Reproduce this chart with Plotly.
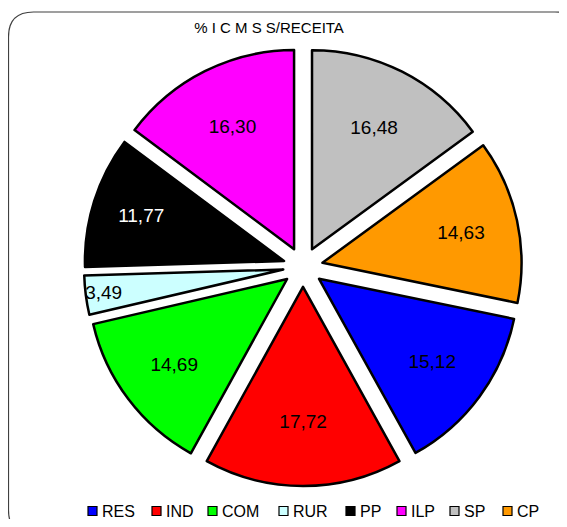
import plotly.graph_objects as go

categories = ["RES", "IND", "COM", "RUR", "PP", "ILP", "SP", "CP"]
values = [15.12, 17.72, 14.69, 3.49, 11.77, 16.30, 16.48, 14.63]
colors = ["#0000FF", "#FF0000", "#00FF00", "#CCFFFF", "#000000", "#FF00FF", "#C0C0C0", "#FF9900"]
text_colors = ["black", "black", "black", "black", "white", "black", "black", "black"]
title_text = "% I C M S S/RECEITA"

labels_txt = [f"{v:.2f}".replace(".", ",") for v in values]
total = sum(values)
# first slice (RES) starts after SP and CP, measured clockwise from 12 o'clock
rotation = (values[6] + values[7]) / total * 360

# page body has an 8px margin on every side
OFF = 8
W, H = 567 - 2 * OFF, 527 - 2 * OFF
cx, cy = 303 - OFF, 267 - OFF
half = 219

def px(x):
    return (x - OFF) / W

def py(y):
    return 1 - (y - OFF) / H

fig = go.Figure(go.Pie(
    labels=categories,
    values=values,
    text=labels_txt,
    textinfo="text",
    textposition="inside",
    insidetextorientation="horizontal",
    textfont=dict(family="Liberation Sans, Arial", size=19, color=text_colors),
    marker=dict(colors=colors, line=dict(color="black", width=2.5)),
    pull=[0.1] * len(values),
    sort=False,
    direction="clockwise",
    rotation=rotation,
    domain=dict(x=[(cx - half) / W, (cx + half) / W], y=[1 - (cy + half) / H, 1 - (cy - half) / H]),
    hoverinfo="label+value",
    showlegend=False,
))

x0, x1, y0, y1, r = 8.5, 580, 12, 535, 25
path = (
    f"M {px(x0 + r)},{py(y0)} L {px(x1 - r)},{py(y0)} Q {px(x1)},{py(y0)} {px(x1)},{py(y0 + r)} "
    f"L {px(x1)},{py(y1 - r)} Q {px(x1)},{py(y1)} {px(x1 - r)},{py(y1)} "
    f"L {px(x0 + r)},{py(y1)} Q {px(x0)},{py(y1)} {px(x0)},{py(y1 - r)} "
    f"L {px(x0)},{py(y0 + r)} Q {px(x0)},{py(y0)} {px(x0 + r)},{py(y0)} Z"
)
shapes = [dict(type="path", path=path, xref="paper", yref="paper",
               line=dict(color="#404040", width=1.2), layer="below")]

# legend drawn as squares + labels (layout positions, in page pixels)
legend_x = [88, 152, 208, 279, 346, 397, 450, 503]
legend_y = 511
sq = 9
annotations = []
for cat, col, lx in zip(categories, colors, legend_x):
    shapes.append(dict(type="rect", xref="paper", yref="paper",
                       x0=px(lx), x1=px(lx + sq), y0=py(legend_y + sq / 2), y1=py(legend_y - sq / 2),
                       fillcolor=col, line=dict(color="black", width=1.2)))
    annotations.append(dict(text=cat, xref="paper", yref="paper", x=px(lx + sq + 4), y=py(legend_y),
                            xanchor="left", yanchor="middle", showarrow=False,
                            font=dict(size=16, color="black"), borderpad=0))

fig.update_layout(
    width=W, height=H,
    margin=dict(l=0, r=0, t=0, b=0),
    paper_bgcolor="white",
    plot_bgcolor="white",
    font=dict(family="Liberation Sans, Arial", color="black"),
    title=dict(text=title_text, x=px(269), xanchor="center", y=py(28), yanchor="middle",
               font=dict(size=15, color="black")),
    uniformtext=dict(minsize=18, mode="show"),
    shapes=shapes,
    annotations=annotations,
)

fig.write_html("out.html")
